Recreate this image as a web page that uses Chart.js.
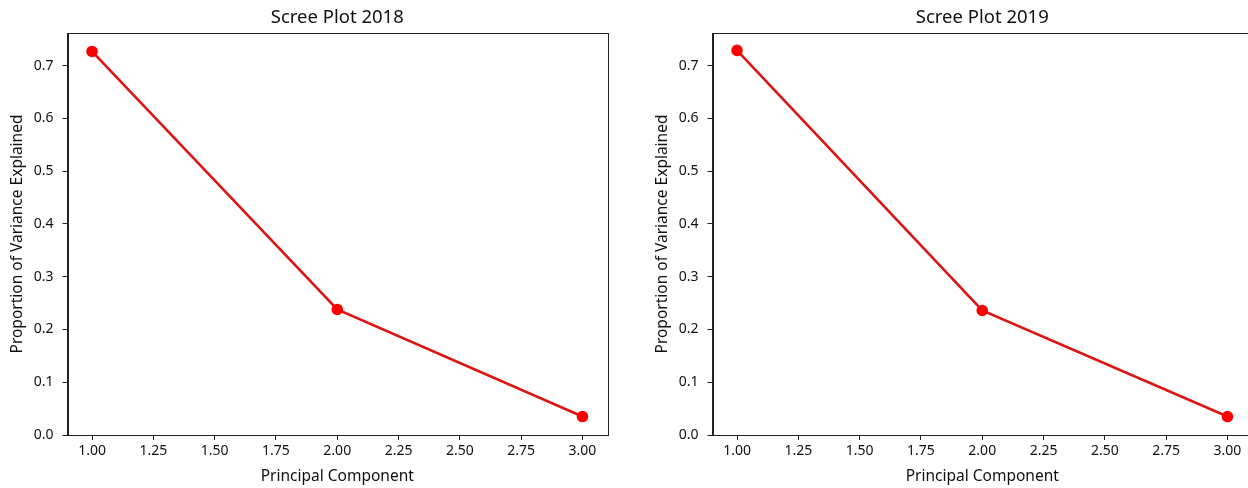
<!DOCTYPE html>
<html>
<head>
<meta charset="utf-8">
<script src="https://cdn.jsdelivr.net/npm/chart.js@4/dist/chart.umd.min.js"></script>
<style>
  html, body { margin:0; padding:0; background:#fff; overflow:hidden; width:1248px; height:488px; }
  .box { position:absolute; top:0; width:624px; height:488px; }
</style>
</head>
<body>
<div class="box" style="left:0"><canvas id="c2018"></canvas></div>
<div class="box" style="left:645px"><canvas id="c2019"></canvas></div>
<script>
// ---------------- data ----------------
const components = [1, 2, 3];
const variance2018 = [0.727, 0.238, 0.035];
const variance2019 = [0.729, 0.236, 0.035];
const xTicks = [1.00, 1.25, 1.50, 1.75, 2.00, 2.25, 2.50, 2.75, 3.00];
const yTicks = [0.0, 0.1, 0.2, 0.3, 0.4, 0.5, 0.6, 0.7];

const FONT = "'Noto Sans', 'Open Sans', sans-serif";

// box around the plot area + title centred over it (matplotlib style)
const frame = {
  id: "frame",
  afterDraw(chart, args, opts) {
    const a = chart.chartArea, ctx = chart.ctx;
    ctx.save();
    ctx.strokeStyle = "#222";
    ctx.lineWidth = 1;
    ctx.strokeRect(Math.round(a.left) + 0.5, Math.round(a.top) + 0.5,
                   Math.round(a.right - a.left), Math.round(a.bottom - a.top));
    ctx.fillStyle = "#111";
    ctx.font = "18.5px " + FONT;
    ctx.textAlign = "center";
    ctx.textBaseline = "alphabetic";
    ctx.fillText(opts.text, (a.left + a.right) / 2, 23);
    ctx.restore();
  }
};

function makeChart(id, title, values) {
  const pts = components.map((c, i) => ({ x: c, y: values[i] }));
  return new Chart(document.getElementById(id), {
    type: "line",
    data: {
      datasets: [{
        data: pts,
        borderColor: "#dd1414",
        borderWidth: 2.6,
        pointBackgroundColor: "#ff0000",
        pointBorderColor: "#ff0000",
        pointRadius: 4.5,
        tension: 0
      }]
    },
    options: {
      responsive: true,
      maintainAspectRatio: false,
      animation: false,
      layout: { padding: { top: 33, right: 17, bottom: 0, left: 0 } },
      plugins: {
        legend: { display: false },
        tooltip: { enabled: false },
        title: { display: false },
        frame: { text: title }
      },
      scales: {
        x: {
          type: "linear", min: 0.9, max: 3.1,
          afterBuildTicks: s => { s.ticks = xTicks.map(v => ({ value: v })); },
          afterFit: s => { s.height = 53; },
          ticks: { color: "#111", font: { family: FONT, size: 14 }, padding: 3,
                   maxRotation: 0, autoSkip: false, callback: v => v.toFixed(2) },
          grid: { drawOnChartArea: false, drawTicks: true, tickLength: 5, color: "#222" },
          border: { display: true, color: "#222" },
          title: { display: true, text: "Principal Component", color: "#111",
                   font: { family: FONT, size: 15.5 }, padding: { top: 2, bottom: 2 } }
        },
        y: {
          min: 0, max: 0.762,
          afterBuildTicks: s => { s.ticks = yTicks.map(v => ({ value: v })); },
          afterFit: s => { s.width = 67.5; },
          ticks: { color: "#111", font: { family: FONT, size: 14 }, padding: 9,
                   autoSkip: false, callback: v => v.toFixed(1) },
          grid: { drawOnChartArea: false, drawTicks: true, tickLength: 5, color: "#222" },
          border: { display: true, color: "#222" },
          title: { display: true, text: "Proportion of Variance Explained", color: "#111",
                   font: { family: FONT, size: 15.5 }, padding: { top: 8.5, bottom: 4 } }
        }
      }
    },
    plugins: [frame]
  });
}

makeChart("c2018", "Scree Plot 2018", variance2018);
makeChart("c2019", "Scree Plot 2019", variance2019);
</script>
</body>
</html>
